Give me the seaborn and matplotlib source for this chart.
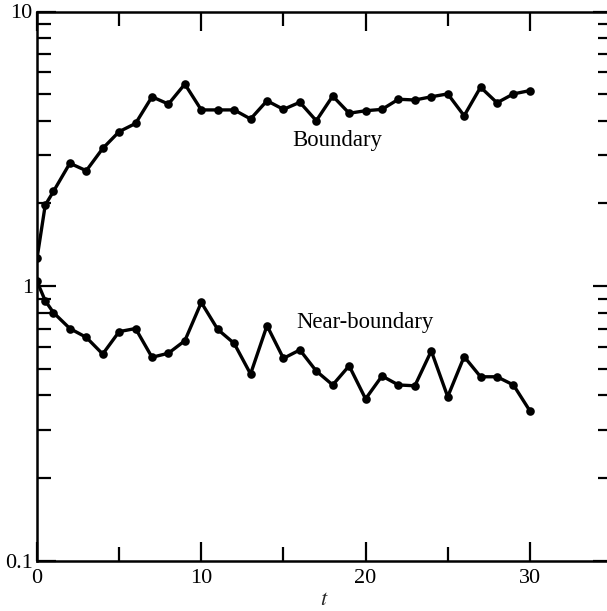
import numpy as np
import pandas as pd
import seaborn as sns
import matplotlib
matplotlib.use("Agg")
import matplotlib.pyplot as plt
from matplotlib.ticker import LogLocator, FixedLocator, NullFormatter, FixedFormatter

# Time points
t = [0, 0.5] + list(range(1, 31))

# Boundary series
boundary = [1.26, 1.97, 2.21, 2.80, 2.63, 3.17, 3.65, 3.91, 4.89, 4.60, 5.44,
            4.38, 4.38, 4.38, 4.06, 4.73, 4.40, 4.67, 4.00, 4.92, 4.26,
            4.35, 4.40, 4.79, 4.76, 4.89, 5.01, 4.17, 5.30, 4.65, 5.01, 5.15]

# Near-boundary series
near_boundary = [1.04, 0.884, 0.80, 0.70, 0.65, 0.565, 0.682, 0.70, 0.55, 0.569, 0.632,
                 0.871, 0.695, 0.618, 0.478, 0.717, 0.545, 0.585, 0.490, 0.436, 0.512,
                 0.388, 0.470, 0.436, 0.433, 0.580, 0.395, 0.553, 0.467, 0.467, 0.436, 0.351]

series_names = ["Boundary", "Near-boundary"]
label_pos = {"Boundary": (15.55, 3.40), "Near-boundary": (15.8, 0.739)}

df = pd.concat([
    pd.DataFrame({"t": t, "value": boundary, "series": series_names[0]}),
    pd.DataFrame({"t": t, "value": near_boundary, "series": series_names[1]}),
])

sns.set_theme(style="ticks")
plt.rcParams["font.family"] = ["Liberation Serif", "DejaVu Serif"]
plt.rcParams["mathtext.fontset"] = "stix"

fig = plt.figure(figsize=(6.07, 6.11), dpi=100)
ax = fig.add_axes([37 / 607, 50.5 / 611, (612 - 37) / 607, 549 / 611])

sns.lineplot(data=df, x="t", y="value", hue="series", units="series", estimator=None,
             palette=["black", "black"], marker="o", markersize=6.2, markeredgewidth=0,
             linewidth=2.4, legend=False, ax=ax)

for name in series_names:
    x0, y0 = label_pos[name]
    ax.text(x0, y0, name, fontsize=16.4, va="center", ha="left", color="black")

ax.set_yscale("log")
ax.set_xlim(0, 35)
ax.set_ylim(0.1, 10)

ax.xaxis.set_major_locator(FixedLocator([0, 10, 20, 30]))
ax.xaxis.set_minor_locator(FixedLocator([5, 15, 25]))
ax.yaxis.set_major_locator(FixedLocator([0.1, 1, 10]))
ax.yaxis.set_major_formatter(FixedFormatter(["0.1", "1", "10"]))
ax.yaxis.set_minor_locator(LogLocator(base=10, subs=np.arange(2, 10)))
ax.yaxis.set_minor_formatter(NullFormatter())

ax.tick_params(which="both", direction="in", top=True, right=True, colors="black",
               labelsize=16, width=1.6)
ax.tick_params(which="major", length=14)
ax.tick_params(axis="x", which="major", pad=6)
ax.tick_params(axis="y", which="major", pad=3)
ax.tick_params(which="minor", length=10)

for side in ["left", "bottom", "top", "right"]:
    ax.spines[side].set_linewidth(1.8)
    ax.spines[side].set_color("black")

ax.set_xlabel("$t$", fontsize=16, labelpad=2)
ax.set_ylabel("")

fig.savefig("out.png", dpi=100)
